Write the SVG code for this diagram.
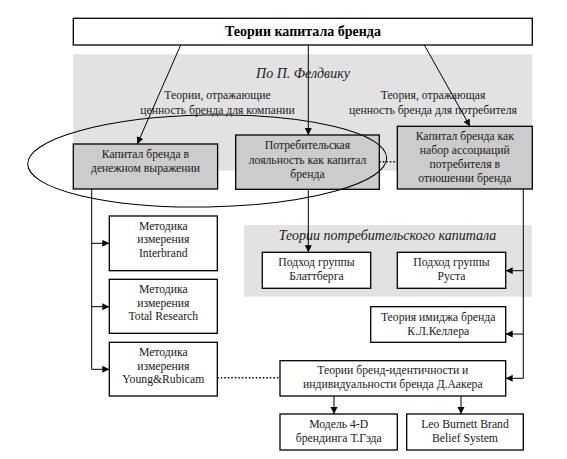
<svg xmlns="http://www.w3.org/2000/svg" width="567" height="459" viewBox="0 0 567 459" font-family="'Liberation Serif', 'DejaVu Serif', serif">
<defs>
<marker id="arr" markerUnits="userSpaceOnUse" markerWidth="8" markerHeight="8" refX="7" refY="3.5" orient="auto"><path d="M0,0 L7,3.5 L0,7 Z" fill="#000"/></marker>
</defs>
<style>
.t{font-family:'Liberation Serif','DejaVu Serif',serif;font-size:11.7px;fill:#1a1a1a;text-anchor:middle}
.bold{font-weight:bold;font-size:14px;fill:#000}
.i{font-style:italic;font-size:14px}
.b{fill:#fff;stroke:#000;stroke-width:1.3}
.g{fill:#cccccc;stroke:#000;stroke-width:1.3}
.area{fill:#e2e2e2}
.c{fill:none;stroke:#000;stroke-width:1}
.ca{fill:none;stroke:#000;stroke-width:1;marker-end:url(#arr)}
.d{fill:none;stroke:#000;stroke-width:1.5;stroke-dasharray:1.5 2}
</style>
<rect width="567" height="459" fill="#fff"/>
<g id="area-feldwick">
<rect class="area" x="73.3" y="54.3" width="459" height="116.4"/>
<text class="t i" x="303" y="78">По П. Фелдвику</text>
<text class="t" x="217.5" y="99">Теории, отражающие</text>
<text class="t" x="217.5" y="114">ценность бренда для компании</text>
<text class="t" x="433" y="99">Теория, отражающая</text>
<text class="t" x="433" y="114">ценность бренда для потребителя</text>
</g>
<g id="area-consumer">
<rect class="area" x="244" y="225" width="287.7" height="71.7"/>
<text class="t i" x="387.5" y="239.5">Теории потребительского капитала</text>
</g>
<g id="connectors">
<line class="ca" x1="180.7" y1="45" x2="137.3" y2="144"/>
<line class="ca" x1="308.3" y1="45" x2="308.3" y2="135"/>
<line class="ca" x1="424.3" y1="45" x2="470" y2="126.3"/>
<line class="d" x1="379.3" y1="161.7" x2="397.3" y2="161.7"/>
<polyline class="c" points="91.7,189 91.7,369.3"/>
<line class="ca" x1="91.7" y1="243.3" x2="109.3" y2="243.3"/>
<line class="ca" x1="91.7" y1="306.7" x2="109.3" y2="306.7"/>
<line class="ca" x1="91.7" y1="369.3" x2="109.3" y2="369.3"/>
<line class="ca" x1="308.3" y1="189.3" x2="308.3" y2="252.3"/>
<polyline class="c" points="523.3,189 523.3,378.3"/>
<line class="ca" x1="523.3" y1="270.7" x2="505.7" y2="270.7"/>
<line class="ca" x1="523.3" y1="334" x2="505.7" y2="334"/>
<line class="ca" x1="523.3" y1="378.3" x2="505.7" y2="378.3"/>
<line class="d" x1="217.3" y1="377.7" x2="280" y2="377.7"/>
<line class="ca" x1="334" y1="396" x2="334" y2="414"/>
<line class="ca" x1="461" y1="396" x2="461" y2="414"/>
</g>
<g id="n-top">
<rect class="b" x="73.3" y="18.3" width="459" height="26.7"/>
<text class="t bold" x="303" y="36">Теории капитала бренда</text>
</g>
<g id="n-money">
<rect class="g" x="73.3" y="144" width="144.3" height="45"/>
<text class="t" x="145.5" y="157.5">Капитал бренда в</text>
<text class="t" x="145.5" y="172">денежном выражении</text>
</g>
<g id="n-loyalty">
<rect class="g" x="235.7" y="135" width="143.6" height="54.3"/>
<text class="t" x="307.5" y="149">Потребительская</text>
<text class="t" x="307.5" y="163.5">лояльность как капитал</text>
<text class="t" x="307.5" y="178">бренда</text>
</g>
<g id="n-assoc">
<rect class="g" x="397.3" y="126.3" width="135" height="62.7"/>
<text class="t" x="464.8" y="140">Капитал бренда как</text>
<text class="t" x="464.8" y="154">набор ассоциаций</text>
<text class="t" x="464.8" y="168">потребителя в</text>
<text class="t" x="464.8" y="182">отношении бренда</text>
</g>
<g id="ellipse">
<ellipse cx="207.2" cy="161" rx="179.5" ry="46" fill="none" stroke="#000" stroke-width="1" transform="rotate(-1 207.2 161)"/>
</g>
<g id="n-interbrand">
<rect class="b" x="109.3" y="216" width="108" height="54.7"/>
<text class="t" x="163.3" y="229.5">Методика</text>
<text class="t" x="163.3" y="243.3">измерения</text>
<text class="t" x="163.3" y="257">Interbrand</text>
</g>
<g id="n-total">
<rect class="b" x="109.3" y="279.3" width="108" height="54"/>
<text class="t" x="163.3" y="292.8">Методика</text>
<text class="t" x="163.3" y="306.5">измерения</text>
<text class="t" x="163.3" y="320.3">Total Research</text>
</g>
<g id="n-young">
<rect class="b" x="109.3" y="342.3" width="108" height="53.7"/>
<text class="t" x="163.3" y="355.8">Методика</text>
<text class="t" x="163.3" y="369.5">измерения</text>
<text class="t" x="163.3" y="383.3">Young&amp;Rubicam</text>
</g>
<g id="n-blattberg">
<rect class="b" x="262.3" y="252.3" width="108.4" height="36"/>
<text class="t" x="316.5" y="266">Подход группы</text>
<text class="t" x="316.5" y="280">Блаттберга</text>
</g>
<g id="n-rust">
<rect class="b" x="397.3" y="252.3" width="108.4" height="36"/>
<text class="t" x="451.5" y="266">Подход группы</text>
<text class="t" x="451.5" y="280">Руста</text>
</g>
<g id="n-keller">
<rect class="b" x="370.7" y="306.7" width="135" height="35.6"/>
<text class="t" x="438.2" y="320.5">Теория имиджа бренда</text>
<text class="t" x="438.2" y="334.5">К.Л.Келлера</text>
</g>
<g id="n-aaker">
<rect class="b" x="280" y="360.7" width="225.7" height="35.3"/>
<text class="t" x="392.8" y="374">Теории бренд-идентичности и</text>
<text class="t" x="392.8" y="387.5">индивидуальности бренда Д.Аакера</text>
</g>
<g id="n-gad">
<rect class="b" x="280" y="414" width="117.3" height="36"/>
<text class="t" x="338.7" y="428">Модель 4-D</text>
<text class="t" x="338.7" y="442">брендинга Т.Гэда</text>
</g>
<g id="n-leo">
<rect class="b" x="406.7" y="414" width="116.6" height="36"/>
<text class="t" x="465" y="428">Leo Burnett Brand</text>
<text class="t" x="465" y="442">Belief System</text>
</g>
</svg>
